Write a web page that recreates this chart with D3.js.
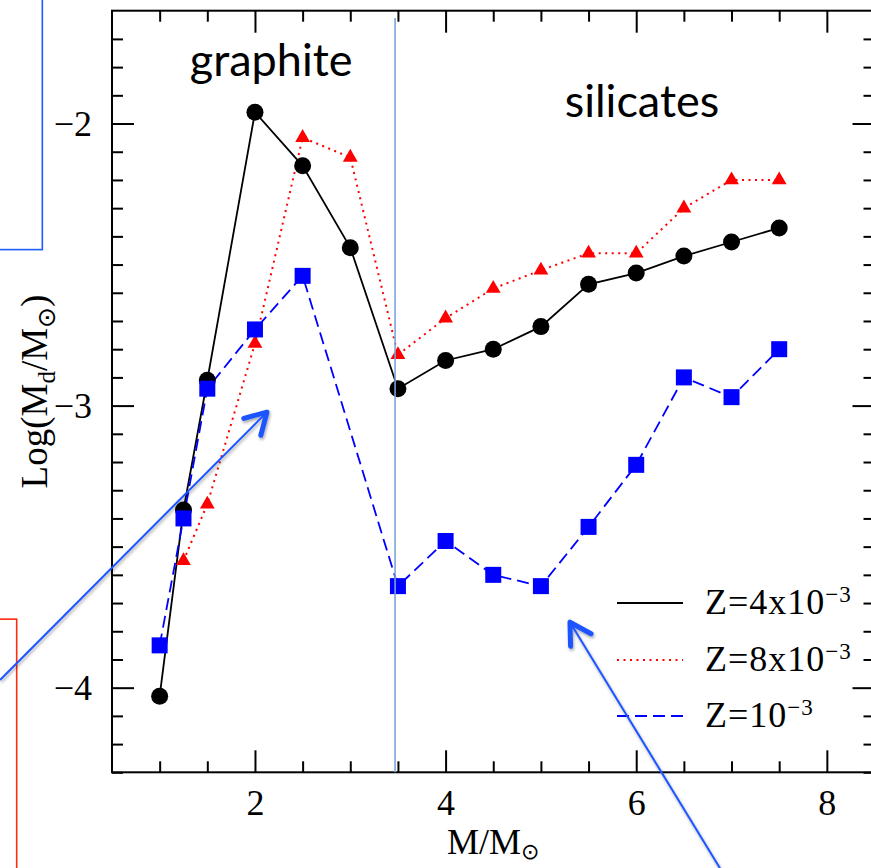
<!DOCTYPE html>
<html>
<head>
<meta charset="utf-8">
<script src="https://cdn.jsdelivr.net/npm/d3@7"></script>
<style>
  body { margin: 0; background: #fff; }
  .axis text { font-family: "Liberation Serif", serif; font-size: 36px; fill: #000; }
  .axis line { stroke: #000; stroke-width: 2px; }
</style>
</head>
<body>
<div id="chart-area"></div>
<script>
// dust mass vs stellar mass, three metallicities
const massZ4 = [1, 1.25, 1.5, 2, 2.5, 3, 3.5, 4, 4.5, 5, 5.5, 6, 6.5, 7, 7.5]
const dustZ4 = [-4.03, -3.37, -2.91, -1.96, -2.15, -2.44, -2.94, -2.84, -2.80, -2.72, -2.57, -2.53, -2.47, -2.42, -2.37]

const massZ8 = [1.25, 1.5, 2, 2.5, 3, 3.5, 4, 4.5, 5, 5.5, 6, 6.5, 7, 7.5]
const dustZ8 = [-3.55, -3.35, -2.78, -2.05, -2.12, -2.82, -2.69, -2.585, -2.52, -2.46, -2.46, -2.30, -2.20, -2.20]

const massZ1 = [1, 1.25, 1.5, 2, 2.5, 3.5, 4, 4.5, 5, 5.5, 6, 6.5, 7, 7.5]
const dustZ1 = [-3.85, -3.40, -2.94, -2.73, -2.54, -3.64, -3.48, -3.60, -3.64, -3.43, -3.21, -2.90, -2.97, -2.80]

const legendText = ["Z=4x10", "Z=8x10", "Z=10"]
const legendSup = ["\u22123", "\u22123", "\u22123"]

// ticks
const xMajor = [2, 4, 6, 8]
const yMajor = [-4, -3, -2]

// annotations, in data units
const regionNames = ["graphite", "silicates"]
const regionX = [2.17, 6.06]
const regionY = [-1.833, -1.977]
const dividerX = 3.47
const arrowTail = [[-0.675, -3.973], [6.879, -4.64]]
const arrowTip = [[2.126, -3.023], [5.305, -3.768]]

const W = 871, H = 868
const MARGIN = { LEFT: 112, TOP: 10.7, RIGHT: -3.5, BOTTOM: 95.7 }

const svg = d3.select("#chart-area").append("svg")
    .attr("width", W)
    .attr("height", H)

const defs = svg.append("defs")
const f = defs.append("filter").attr("id", "shadow")
    .attr("x", "-20%").attr("y", "-20%").attr("width", "140%").attr("height", "140%")
f.append("feDropShadow")
    .attr("dx", 1).attr("dy", 2).attr("stdDeviation", 1.6)
    .attr("flood-color", "#000").attr("flood-opacity", 0.35)

// scales
const x = d3.scaleLinear().domain([0.5, 8.5]).range([MARGIN.LEFT, W - MARGIN.RIGHT])
const y = d3.scaleLinear().domain([-4.3, -1.6]).range([H - MARGIN.BOTTOM, MARGIN.TOP])

const xMinor = d3.range(1, 8.5, 0.5).filter(d => d % 2 !== 0)
const yMinor = d3.range(-43, -16).map(d => d / 10).filter(d => !Number.isInteger(d))

const fmt = d3.format("d")

// axes, ticks inward on all sides
const yB = y.range()[0], yT = y.range()[1]
const xL = x.range()[0], xR = x.range()[1]

function addAxis(gen, tx, ty) {
    const a = svg.append("g").attr("class", "axis")
        .attr("transform", `translate(${tx}, ${ty})`)
        .call(gen)
    a.select(".domain").remove()
    return a
}

addAxis(d3.axisBottom(x).tickValues(xMinor).tickSize(-11).tickFormat(""), 0, yB)
addAxis(d3.axisBottom(x).tickValues(xMajor).tickSize(-22).tickPadding(17).tickFormat(fmt), 0, yB)
addAxis(d3.axisTop(x).tickValues(xMinor).tickSize(-11).tickFormat(""), 0, yT)
addAxis(d3.axisTop(x).tickValues(xMajor).tickSize(-22).tickFormat(""), 0, yT)
addAxis(d3.axisLeft(y).tickValues(yMinor).tickSize(-11).tickFormat(""), xL, 0)
addAxis(d3.axisLeft(y).tickValues(yMajor).tickSize(-22).tickPadding(20).tickFormat(fmt), xL, 0)
addAxis(d3.axisRight(y).tickValues(yMinor).tickSize(-11).tickFormat(""), xR, 0)
addAxis(d3.axisRight(y).tickValues(yMajor).tickSize(-22).tickFormat(""), xR, 0)

// frame
svg.append("rect")
    .attr("x", xL).attr("y", yT)
    .attr("width", xR - xL).attr("height", yB - yT)
    .attr("fill", "none")
    .attr("stroke", "#000")
    .attr("stroke-width", 2)

// axis titles
const serif = "'Liberation Serif', 'DejaVu Serif', serif"
const xt = svg.append("text")
    .attr("x", (xL + xR) / 2)
    .attr("y", 854)
    .attr("text-anchor", "middle")
    .style("font-family", serif)
    .style("font-size", "36px")
xt.append("tspan").text("M/M")
xt.append("tspan").attr("dy", 5).style("font-size", "22px")
    .style("font-family", "'DejaVu Sans', sans-serif").text("\u2299")

const yt = svg.append("text")
    .attr("transform", `translate(47, ${(yT + yB) / 2}) rotate(-90)`)
    .attr("text-anchor", "middle")
    .style("font-family", serif)
    .style("font-size", "37px")
yt.append("tspan").text("Log(M")
yt.append("tspan").attr("dy", 8).style("font-size", "25px").text("d")
yt.append("tspan").attr("dy", -8).text("/M")
yt.append("tspan").attr("dy", 8).style("font-size", "25px")
    .style("font-family", "'DejaVu Sans', sans-serif").text("\u2299")
yt.append("tspan").attr("dy", -8).text(")")

// lines
const line = d3.line()
    .x(d => x(d[0]))
    .y(d => y(d[1]))

const series = [
    { mass: massZ4, dust: dustZ4, color: "#000", dash: null, width: 1.8 },
    { mass: massZ8, dust: dustZ8, color: "#ff0000", dash: "2,4.5", width: 2 },
    { mass: massZ1, dust: dustZ1, color: "#0000ff", dash: "12,6", width: 1.8 }
]

series.forEach(s => {
    s.pts = s.mass.map((m, i) => [m, s.dust[i]])
    svg.append("path")
        .attr("class", "line")
        .attr("d", line(s.pts))
        .attr("fill", "none")
        .attr("stroke", s.color)
        .attr("stroke-width", s.width)
        .attr("stroke-dasharray", s.dash)
})

// markers
svg.append("g").selectAll("circle")
    .data(series[0].pts)
    .enter().append("circle")
        .attr("cx", d => x(d[0]))
        .attr("cy", d => y(d[1]))
        .attr("r", 8.5)
        .attr("fill", "#000")

const tri = d3.symbol().type(d3.symbolTriangle).size(95)
svg.append("g").selectAll("path")
    .data(series[1].pts)
    .enter().append("path")
        .attr("d", tri)
        .attr("transform", d => `translate(${x(d[0])}, ${y(d[1])})`)
        .attr("fill", "#ff0000")

svg.append("g").selectAll("rect")
    .data(series[2].pts)
    .enter().append("rect")
        .attr("x", d => x(d[0]) - 8)
        .attr("y", d => y(d[1]) - 8)
        .attr("width", 16)
        .attr("height", 16)
        .attr("fill", "#0000ff")

// region labels
svg.append("g").selectAll("text")
    .data(regionNames)
    .enter().append("text")
        .attr("x", (d, i) => x(regionX[i]))
        .attr("y", (d, i) => y(regionY[i]))
        .attr("text-anchor", "middle")
        .style("font-family", "Lato, 'Open Sans', sans-serif")
        .style("font-size", "45px")
        .text(d => d)

// divider between graphite and silicates
svg.append("line")
    .attr("x1", x(dividerX)).attr("x2", x(dividerX))
    .attr("y1", y(-1.626)).attr("y2", yB)
    .attr("stroke", "#7aa5da")
    .attr("stroke-width", 1.6)

// legend
const legY = [603, 660, 716]
const leg = svg.append("g").attr("class", "legend")
series.forEach((s, i) => {
    leg.append("line")
        .attr("x1", 617).attr("x2", 683)
        .attr("y1", legY[i]).attr("y2", legY[i])
        .attr("stroke", s.color)
        .attr("stroke-width", s.width)
        .attr("stroke-dasharray", s.dash)
    const t = leg.append("text")
        .attr("x", 705)
        .attr("y", legY[i] + 11)
        .style("font-family", serif)
        .style("font-size", "36px")
        .style("letter-spacing", "1px")
    t.append("tspan").text(legendText[i])
    t.append("tspan").attr("dy", -12).style("font-size", "23px").text(legendSup[i])
})

// leftover frames from neighbouring panels
svg.append("rect")
    .attr("x", -10).attr("y", -10)
    .attr("width", x(-0.231) + 10).attr("height", y(-2.447) + 10)
    .attr("fill", "none").attr("stroke", "#1d5cff").attr("stroke-width", 1.6)
svg.append("rect")
    .attr("x", -10).attr("y", y(-3.757))
    .attr("width", x(-0.5) + 10).attr("height", H)
    .attr("fill", "none").attr("stroke", "#ff2a10").attr("stroke-width", 1.6)

// arrows
const arrowColor = "#1f55ff"
arrowTail.forEach((tail, i) => {
    const x0 = x(tail[0]), y0 = y(tail[1])
    const x1 = x(arrowTip[i][0]), y1 = y(arrowTip[i][1])
    const ang = Math.atan2(y0 - y1, x0 - x1)
    const a = svg.append("g").attr("filter", "url(#shadow)")
    a.append("line")
        .attr("x1", x0).attr("y1", y0).attr("x2", x1).attr("y2", y1)
        .attr("stroke", arrowColor).attr("stroke-width", 2)
    const head = [ang - Math.PI / 6, ang + Math.PI / 6].map(b =>
        [x1 + 24 * Math.cos(b), y1 + 24 * Math.sin(b)])
    a.append("path")
        .attr("d", `M${head[0][0]},${head[0][1]}L${x1},${y1}L${head[1][0]},${head[1][1]}`)
        .attr("fill", "none")
        .attr("stroke", arrowColor)
        .attr("stroke-width", 5)
        .attr("stroke-linecap", "round")
        .attr("stroke-linejoin", "round")
})
</script>
</body>
</html>
